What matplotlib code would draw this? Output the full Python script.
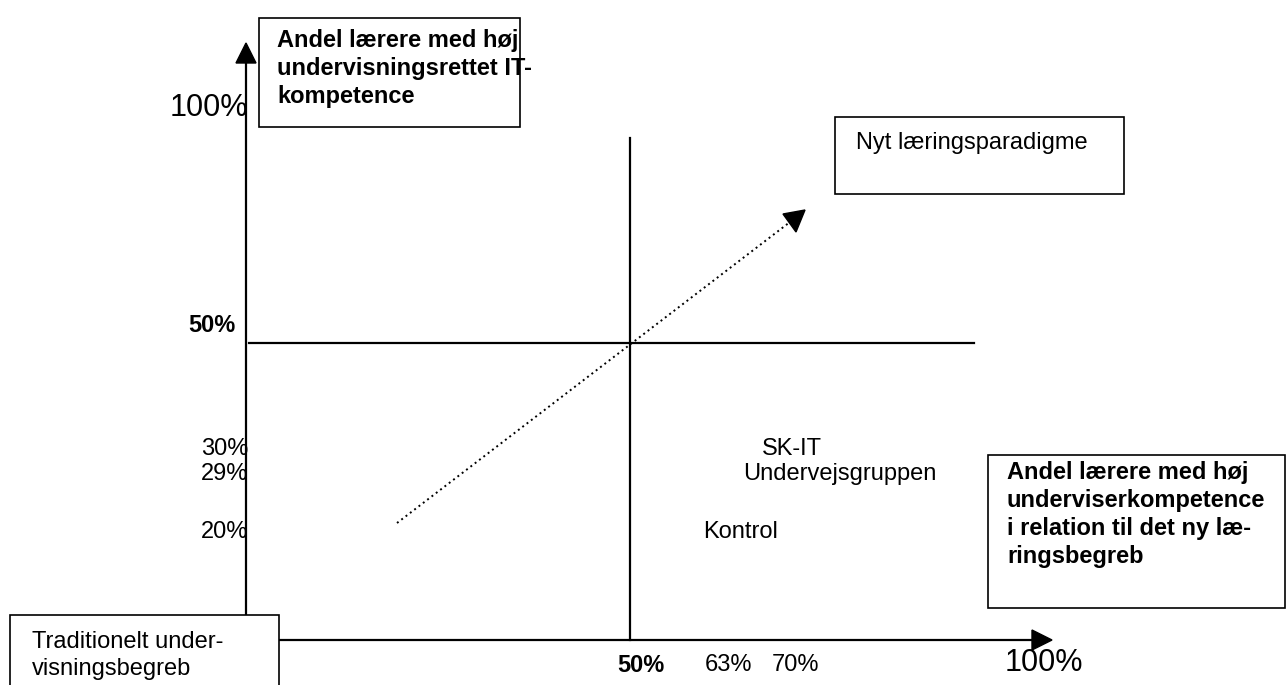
import matplotlib.pyplot as plt
from matplotlib.patches import Rectangle, Polygon

plt.rcParams['font.family'] = ['Liberation Sans', 'DejaVu Sans']

# labels in the diagram
y_labels = ["30%", "29%", "20%"]
group_names = ["SK-IT", "Undervejsgruppen", "Kontrol"]
x_labels = ["63%", "70%"]
mid_label = "50%"
full_label = "100%"
y_title = "Andel lærere med høj\nundervisningsrettet IT-\nkompetence"
x_title = "Andel lærere med høj\nunderviserkompetence\ni relation til det ny læ-\nringsbegreb"
new_title = "Nyt læringsparadigme"
old_title = "Traditionelt under-\nvisningsbegreb"

# layout (pixels of the 1288x685 canvas)
W, H = 1288, 685
ox, oy = 246, 640          # origin of the axes
midx, midy = 630, 343      # 50% lines
fs = 17
ls = 1.28

fig = plt.figure(figsize=(W / 100, H / 100), dpi=100)
ax = fig.add_axes([0, 0, 1, 1])
ax.set_xlim(0, W)
ax.set_ylim(H, 0)
ax.axis("off")

# main axes with arrow heads
ax.plot([ox, ox], [615, 60], color="black", lw=1.6)
ax.add_patch(Polygon([[ox - 10, 63], [ox + 10, 63], [ox, 43]], closed=True, color="black"))
ax.plot([99, 1035], [oy, oy], color="black", lw=1.6)
ax.add_patch(Polygon([[1032, oy - 10], [1032, oy + 10], [1052, oy]], closed=True, color="black"))

# 50% cross lines
ax.plot([midx, midx], [138, oy], color="black", lw=1.6)
ax.plot([249, 974], [midy, midy], color="black", lw=1.6)

# dotted development arrow
ax.plot([397, 790], [523, 222], color="black", lw=1.4, ls=(0, (1, 1.8)))
ax.add_patch(Polygon([[783, 214], [796, 232], [805, 210]], closed=True, color="black"))

# boxes
box_kw = dict(fill=False, edgecolor="black", lw=1.2)
ax.add_patch(Rectangle((259, 18), 261, 109, **box_kw))
ax.add_patch(Rectangle((835, 117), 289, 77, **box_kw))
ax.add_patch(Rectangle((988, 455), 297, 153, **box_kw))
ax.add_patch(Rectangle((10, 615), 269, 80, facecolor="white", edgecolor="black", lw=1.2, zorder=3))

ax.text(277, 29, y_title, fontsize=fs, fontweight="bold", va="top", ha="left", linespacing=ls)
ax.text(1007, 461, x_title, fontsize=fs, fontweight="bold", va="top", ha="left", linespacing=ls)
ax.text(856, 143, new_title, fontsize=fs, va="center", ha="left")
ax.text(32, 631, old_title, fontsize=fs, va="top", ha="left", linespacing=ls, zorder=4)

# y-axis labels
ax.text(248, 108, full_label, fontsize=22, va="center", ha="right")
ax.text(236, 325, mid_label, fontsize=fs, fontweight="bold", va="center", ha="right")
for lab, y in zip(y_labels, [449, 474, 532]):
    ax.text(248, y, lab, fontsize=fs, va="center", ha="right")

# group labels
for name, x, y in zip(group_names, [762, 743, 703], [449, 474, 532]):
    ax.text(x, y, name, fontsize=fs, va="center", ha="left")

# x-axis labels
ax.text(617, 665, mid_label, fontsize=fs, fontweight="bold", va="center", ha="left")
for lab, x in zip(x_labels, [705, 772]):
    ax.text(x, 665, lab, fontsize=fs, va="center", ha="left")
ax.text(1005, 663, full_label, fontsize=22, va="center", ha="left")

fig.savefig("out.png", dpi=100)
